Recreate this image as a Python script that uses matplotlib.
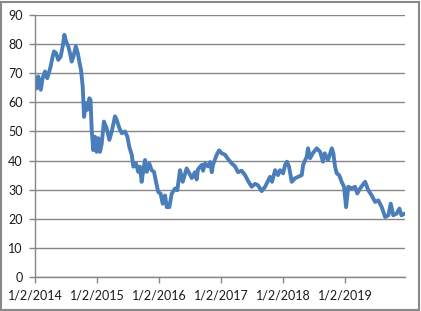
import numpy as np
import pandas as pd
import matplotlib
matplotlib.use('Agg')
import matplotlib.pyplot as plt
import matplotlib.dates as mdates
from matplotlib.ticker import FuncFormatter
from matplotlib.patches import Rectangle

# values
dates = [
    '2014-01-02', '2014-01-12', '2014-01-21', '2014-02-05', '2014-02-16', '2014-03-02',
    '2014-03-15', '2014-03-27', '2014-04-04', '2014-04-16', '2014-04-24', '2014-05-06',
    '2014-05-19', '2014-06-02', '2014-06-14', '2014-06-24', '2014-07-04', '2014-07-17',
    '2014-07-27', '2014-08-06', '2014-08-16', '2014-08-30', '2014-09-11', '2014-09-20',
    '2014-09-30', '2014-10-10', '2014-10-18', '2014-10-29', '2014-11-06', '2014-11-18',
    '2014-11-25', '2014-12-02', '2014-12-11', '2014-12-21', '2014-12-31', '2015-01-10',
    '2015-01-20', '2015-01-30', '2015-02-12', '2015-02-28', '2015-03-16', '2015-03-30',
    '2015-04-18', '2015-04-28', '2015-05-14', '2015-05-28', '2015-06-16', '2015-06-30',
    '2015-07-11', '2015-07-26', '2015-08-04', '2015-08-20', '2015-09-02', '2015-09-12',
    '2015-09-22', '2015-10-02', '2015-10-12', '2015-10-22', '2015-11-06', '2015-11-20',
    '2015-12-04', '2015-12-20', '2015-12-29', '2016-01-12', '2016-01-24', '2016-02-07',
    '2016-02-17', '2016-03-03', '2016-03-17', '2016-04-06', '2016-04-19', '2016-05-05',
    '2016-05-21', '2016-06-13', '2016-06-29', '2016-07-13', '2016-08-01', '2016-08-11',
    '2016-08-19', '2016-09-10', '2016-09-18', '2016-09-29', '2016-10-17', '2016-10-29',
    '2016-11-08', '2016-11-15', '2016-12-07', '2016-12-21', '2017-01-06', '2017-01-25',
    '2017-02-12', '2017-03-06', '2017-03-25', '2017-04-12', '2017-05-03', '2017-05-23',
    '2017-06-10', '2017-07-01', '2017-07-21', '2017-08-07', '2017-08-29', '2017-09-18',
    '2017-10-05', '2017-10-17', '2017-10-29', '2017-11-16', '2017-12-03', '2017-12-15',
    '2018-01-02', '2018-01-14', '2018-01-25', '2018-02-06', '2018-02-22', '2018-03-13',
    '2018-03-31', '2018-04-22', '2018-04-30', '2018-05-21', '2018-05-29', '2018-06-10',
    '2018-06-26', '2018-07-19', '2018-08-08', '2018-08-25', '2018-09-04', '2018-09-24',
    '2018-10-16', '2018-10-25', '2018-11-04', '2018-11-14', '2018-11-28', '2018-12-13',
    '2018-12-27', '2019-01-08', '2019-01-21', '2019-02-10', '2019-03-02', '2019-03-15',
    '2019-03-31', '2019-04-30', '2019-05-19', '2019-06-08', '2019-06-28', '2019-07-17',
    '2019-08-06', '2019-08-26', '2019-09-14', '2019-09-28', '2019-10-13', '2019-11-02',
    '2019-11-18', '2019-11-30', '2019-12-21',
]
values = [
    68.3, 64.8, 68.9, 64.3, 68.3, 70.6,
    68.3, 70.6, 72.3, 75.7, 77.5, 76.9,
    74.6, 75.7, 79.2, 83.2, 80.9, 79.2,
    76.9, 74.0, 75.7, 79.2, 76.9, 74.0,
    71.1, 65.4, 55.0, 59.7, 57.4, 61.4,
    60.8, 50.5, 43.6, 48.2, 43.0, 47.7,
    43.0, 45.9, 53.4, 51.1, 47.1, 50.0,
    55.2, 54.0, 51.1, 49.4, 50.0, 48.2,
    44.8, 41.9, 37.9, 39.0, 36.1, 37.9,
    32.7, 36.7, 40.2, 36.1, 39.0, 36.7,
    36.1, 31.5, 29.2, 28.6, 25.2, 28.0,
    24.0, 24.0, 28.6, 30.4, 29.8, 36.7,
    32.7, 37.3, 35.6, 34.0, 36.0, 33.5,
    37.0, 38.5, 36.5, 39.0, 38.0, 39.5,
    36.0, 38.5, 42.0, 43.5, 42.5, 42.0,
    40.5, 39.0, 38.0, 36.0, 36.5, 35.0,
    33.0, 31.0, 32.0, 31.5, 29.5, 31.0,
    33.0, 34.4, 32.7, 36.7, 35.0, 36.7,
    35.6, 38.5, 39.6, 37.9, 32.7, 33.9,
    34.4, 35.0, 38.5, 41.3, 44.2, 40.8,
    42.5, 44.2, 43.0, 39.6, 42.5, 40.2,
    44.2, 42.5, 37.9, 35.6, 35.0, 32.7,
    31.0, 24.0, 31.0, 30.4, 31.0, 28.7,
    30.4, 32.7, 29.8, 28.0, 25.8, 26.3,
    24.0, 20.6, 21.2, 25.2, 21.2, 21.8,
    23.5, 21.2, 21.8,
]
tick_dates = ['2014-01-02', '2015-01-02', '2016-01-02', '2017-01-02', '2018-01-02', '2019-01-02']
y_ticks = [0, 10, 20, 30, 40, 50, 60, 70, 80, 90]

plt.rcParams['font.family'] = ['Lato', 'DejaVu Sans']

d = pd.to_datetime(dates)
ticks = pd.to_datetime(tick_dates)


def excel_date(v, pos):
    t = mdates.num2date(v)
    return '%d/%d/%d' % (t.month, t.day, t.year)


fig = plt.figure(figsize=(4.21, 3.11), dpi=100)
ax = fig.add_axes([35 / 421, 1 - 277 / 311, 370 / 421, 262 / 311])

ax.plot(d, values, color='#4A7EBB', lw=2.8, solid_joinstyle='round')

ax.set_xlim(d[0], d[-1])
ax.set_ylim(0, 90)
ax.set_yticks(y_ticks)
ax.set_xticks(ticks)
ax.xaxis.set_major_formatter(FuncFormatter(excel_date))

ax.grid(axis='y', color='#868686', lw=1)
ax.set_axisbelow(True)
for s in ['top', 'right']:
    ax.spines[s].set_visible(False)
for s in ['left', 'bottom']:
    ax.spines[s].set_color('#868686')
    ax.spines[s].set_linewidth(1)
ax.tick_params(axis='both', colors='#868686', length=4, width=1, labelsize=9,
               labelcolor='#1a1a1a', direction='out')
ax.tick_params(axis='y', pad=5)
ax.tick_params(axis='x', pad=5)

# chart area border
fig.patches.append(Rectangle((0.002, 0.004), 0.993, 0.99, transform=fig.transFigure,
                             fill=False, edgecolor='#888888', lw=1.5))

fig.savefig('out.png', dpi=100)
